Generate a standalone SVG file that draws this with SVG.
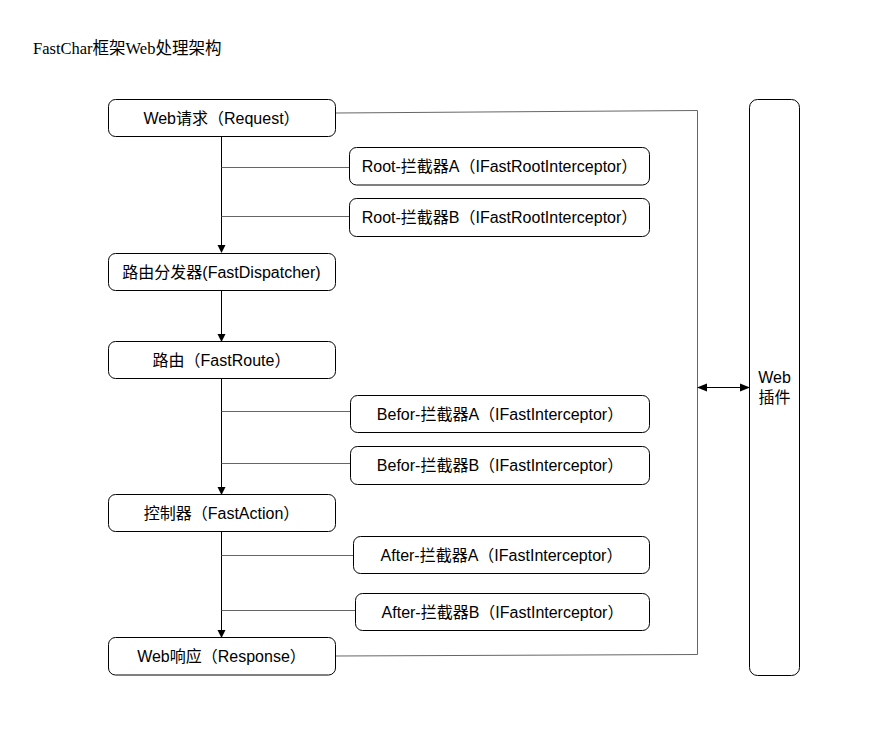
<svg xmlns="http://www.w3.org/2000/svg" width="871" height="748" viewBox="0 0 871 748">
<style>
.box{fill:#fff;stroke:#000;stroke-width:1}
.t{font-family:"Liberation Sans","Noto Sans CJK SC",sans-serif;font-size:16px;fill:#000;text-anchor:middle}
.title{font-family:"Liberation Serif","Noto Sans CJK SC",serif;font-size:16.5px;fill:#000}
.flow{stroke:#000;stroke-width:1;fill:none}
.side{stroke:#666;stroke-width:1;fill:none}
</style>
<defs>
<marker id="ah" markerWidth="8" markerHeight="10" refX="7" refY="4" orient="auto" markerUnits="userSpaceOnUse" viewBox="0 0 8 8">
<path d="M0,0 L8,4 L0,8 Z" fill="#000"/>
</marker>
<marker id="ahs" markerWidth="10" markerHeight="10" refX="9" refY="4" orient="auto-start-reverse" markerUnits="userSpaceOnUse" viewBox="0 0 10 8">
<path d="M0,0 L10,4 L0,8 Z" fill="#000"/>
</marker>
</defs>
<rect width="871" height="748" fill="#fff"/>
<text class="title" x="33" y="54">FastChar框架Web处理架构</text>
<g id="connectors">
<line class="flow" x1="221.5" y1="137" x2="221.5" y2="252" marker-end="url(#ah)"/>
<line class="flow" x1="221.5" y1="290" x2="221.5" y2="341" marker-end="url(#ah)"/>
<line class="flow" x1="221.5" y1="378" x2="221.5" y2="494" marker-end="url(#ah)"/>
<line class="flow" x1="221.5" y1="531" x2="221.5" y2="637" marker-end="url(#ah)"/>
<line class="side" x1="221.5" y1="167.5" x2="350" y2="167.5"/>
<line class="side" x1="221.5" y1="216.5" x2="350" y2="216.5"/>
<line class="side" x1="221.5" y1="411.5" x2="350" y2="411.5"/>
<line class="side" x1="221.5" y1="463.5" x2="350" y2="463.5"/>
<line class="side" x1="221.5" y1="555.5" x2="353" y2="555.5"/>
<line class="side" x1="221.5" y1="610.5" x2="355" y2="610.5"/>
<polyline class="side" points="335.5,113 697.5,110.5 697.5,654.5 335.5,656"/>
<line class="flow" x1="698" y1="387.5" x2="749" y2="387.5" marker-start="url(#ahs)" marker-end="url(#ahs)"/>
</g>
<g id="n-request"><rect class="box" x="108.5" y="99.5" width="227" height="37" rx="7"/><text class="t" x="221.5" y="123.5">Web请求（Request）</text></g>
<g id="n-rootA"><rect class="box" x="349.5" y="147.5" width="300" height="37.5" rx="7"/><text class="t" x="499.5" y="172">Root-拦截器A（IFastRootInterceptor）</text></g>
<g id="n-rootB"><rect class="box" x="349.5" y="198.5" width="300" height="38" rx="7"/><text class="t" x="499.5" y="223">Root-拦截器B（IFastRootInterceptor）</text></g>
<g id="n-dispatcher"><rect class="box" x="108.5" y="253.5" width="227" height="37" rx="7"/><text class="t" x="221.5" y="277.5">路由分发器(FastDispatcher)</text></g>
<g id="n-route"><rect class="box" x="108.5" y="341.5" width="227" height="37" rx="7"/><text class="t" x="221.5" y="365.5">路由（FastRoute）</text></g>
<g id="n-beforA"><rect class="box" x="350.5" y="395.5" width="299" height="37" rx="7"/><text class="t" x="500" y="420">Befor-拦截器A（IFastInterceptor）</text></g>
<g id="n-beforB"><rect class="box" x="350.5" y="446.5" width="299" height="38" rx="7"/><text class="t" x="500" y="471">Befor-拦截器B（IFastInterceptor）</text></g>
<g id="n-action"><rect class="box" x="108.5" y="494.5" width="227" height="37" rx="7"/><text class="t" x="221.5" y="518.5">控制器（FastAction）</text></g>
<g id="n-afterA"><rect class="box" x="353.5" y="536.5" width="296" height="37" rx="7"/><text class="t" x="501.5" y="560.5">After-拦截器A（IFastInterceptor）</text></g>
<g id="n-afterB"><rect class="box" x="355.5" y="593.5" width="294" height="37" rx="7"/><text class="t" x="502.5" y="617.5">After-拦截器B（IFastInterceptor）</text></g>
<g id="n-response"><rect class="box" x="108.5" y="637.5" width="227" height="37.5" rx="7"/><text class="t" x="221.5" y="661.5">Web响应（Response）</text></g>
<g id="n-plugin"><rect class="box" x="749.5" y="99.5" width="50" height="576" rx="8"/><text class="t" x="774.5" y="383">Web</text><text class="t" x="774.5" y="403">插件</text></g>
</svg>
